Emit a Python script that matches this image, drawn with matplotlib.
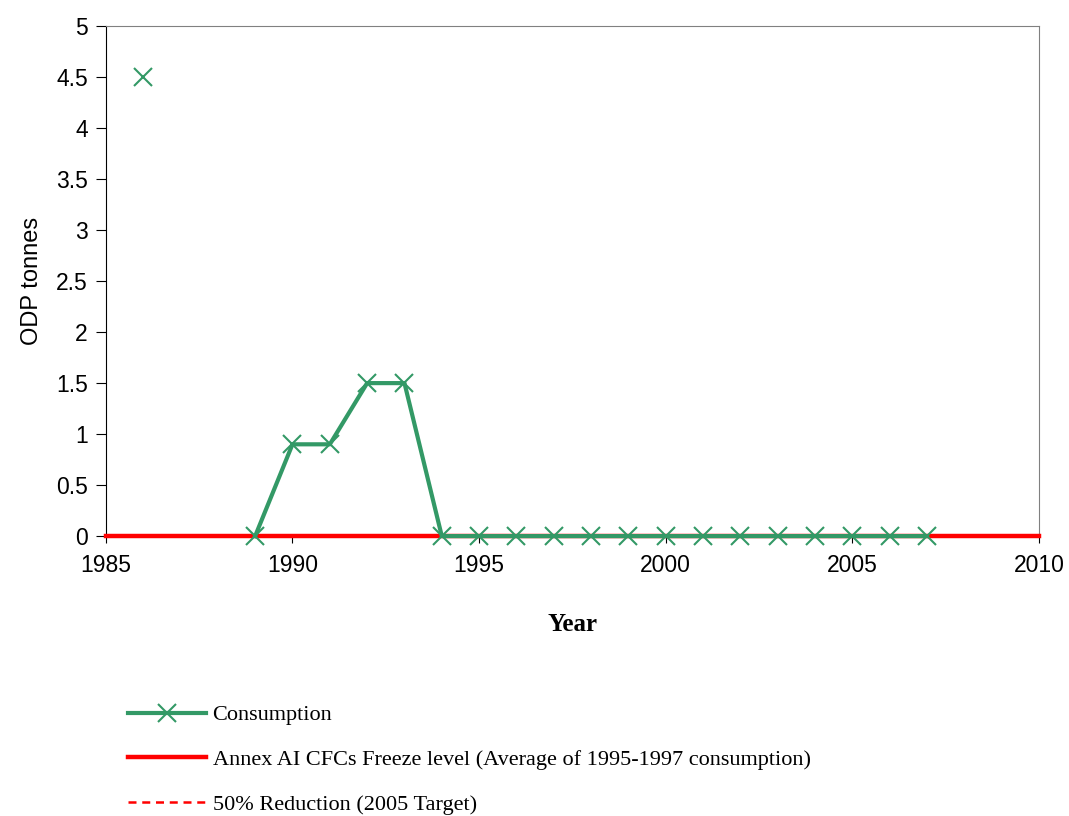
import matplotlib
matplotlib.use("Agg")
import matplotlib.pyplot as plt
import numpy as np

# consumption, ODP tonnes (1987-1988 missing)
years = [1986, 1987, 1988, 1989, 1990, 1991, 1992, 1993, 1994, 1995, 1996,
         1997, 1998, 1999, 2000, 2001, 2002, 2003, 2004, 2005, 2006, 2007]
consumption = [4.5, np.nan, np.nan, 0, 0.9, 0.9, 1.5, 1.5, 0, 0, 0,
               0, 0, 0, 0, 0, 0, 0, 0, 0, 0, 0]

freeze_x = [1985, 2010]
freeze_y = [0, 0]
reduction_x = [1985, 2010]
reduction_y = [0, 0]

fig = plt.figure(figsize=(10.69, 8.16), dpi=100)
ax = fig.add_axes([0.099, 0.343, 0.873, 0.625])

green = "#339966"
l1, = ax.plot(years, consumption, color=green, lw=3, marker="x", ms=13,
              mew=1.5, clip_on=False, zorder=4, label="Consumption")
l2, = ax.plot(freeze_x, freeze_y, color="#ff0000", lw=3.2, clip_on=False,
              zorder=3, label="Annex AI CFCs Freeze level (Average of 1995-1997 consumption)")
l3, = ax.plot(reduction_x, reduction_y, color="#ff0000", lw=1.8, ls=(0, (3.2, 2.3)),
              clip_on=False, zorder=3, label="50% Reduction (2005 Target)")

ax.set_xlim(1985, 2010)
ax.set_ylim(0, 5)
ax.set_xticks(range(1985, 2011, 5))
yt = np.arange(0, 5.01, 0.5)
ax.set_yticks(yt)
ax.set_yticklabels([f"{v:g}" for v in yt])
ax.tick_params(axis="x", direction="out", length=5, labelsize=16.5, pad=8)
ax.tick_params(axis="y", direction="out", length=7, labelsize=16.5, pad=6)
for lab in ax.get_xticklabels() + ax.get_yticklabels():
    lab.set_family("Liberation Sans")

ax.spines["top"].set_color("#808080")
ax.spines["right"].set_color("#808080")
ax.spines["left"].set_color("black")
ax.spines["bottom"].set_color("black")

ax.set_ylabel("ODP tonnes", fontsize=17, family="Liberation Sans", labelpad=9)
ax.set_xlabel("Year", fontsize=18, family="Liberation Serif", fontweight="bold", labelpad=26)

fig.legend(handles=[l1, l2, l3], loc="upper left", bbox_to_anchor=(0.1115, 0.147),
           frameon=False, prop={"family": "Liberation Serif", "size": 16},
           handlelength=3.5, handletextpad=0.3, labelspacing=1.09, borderaxespad=0)

fig.savefig("out.png", dpi=100)
